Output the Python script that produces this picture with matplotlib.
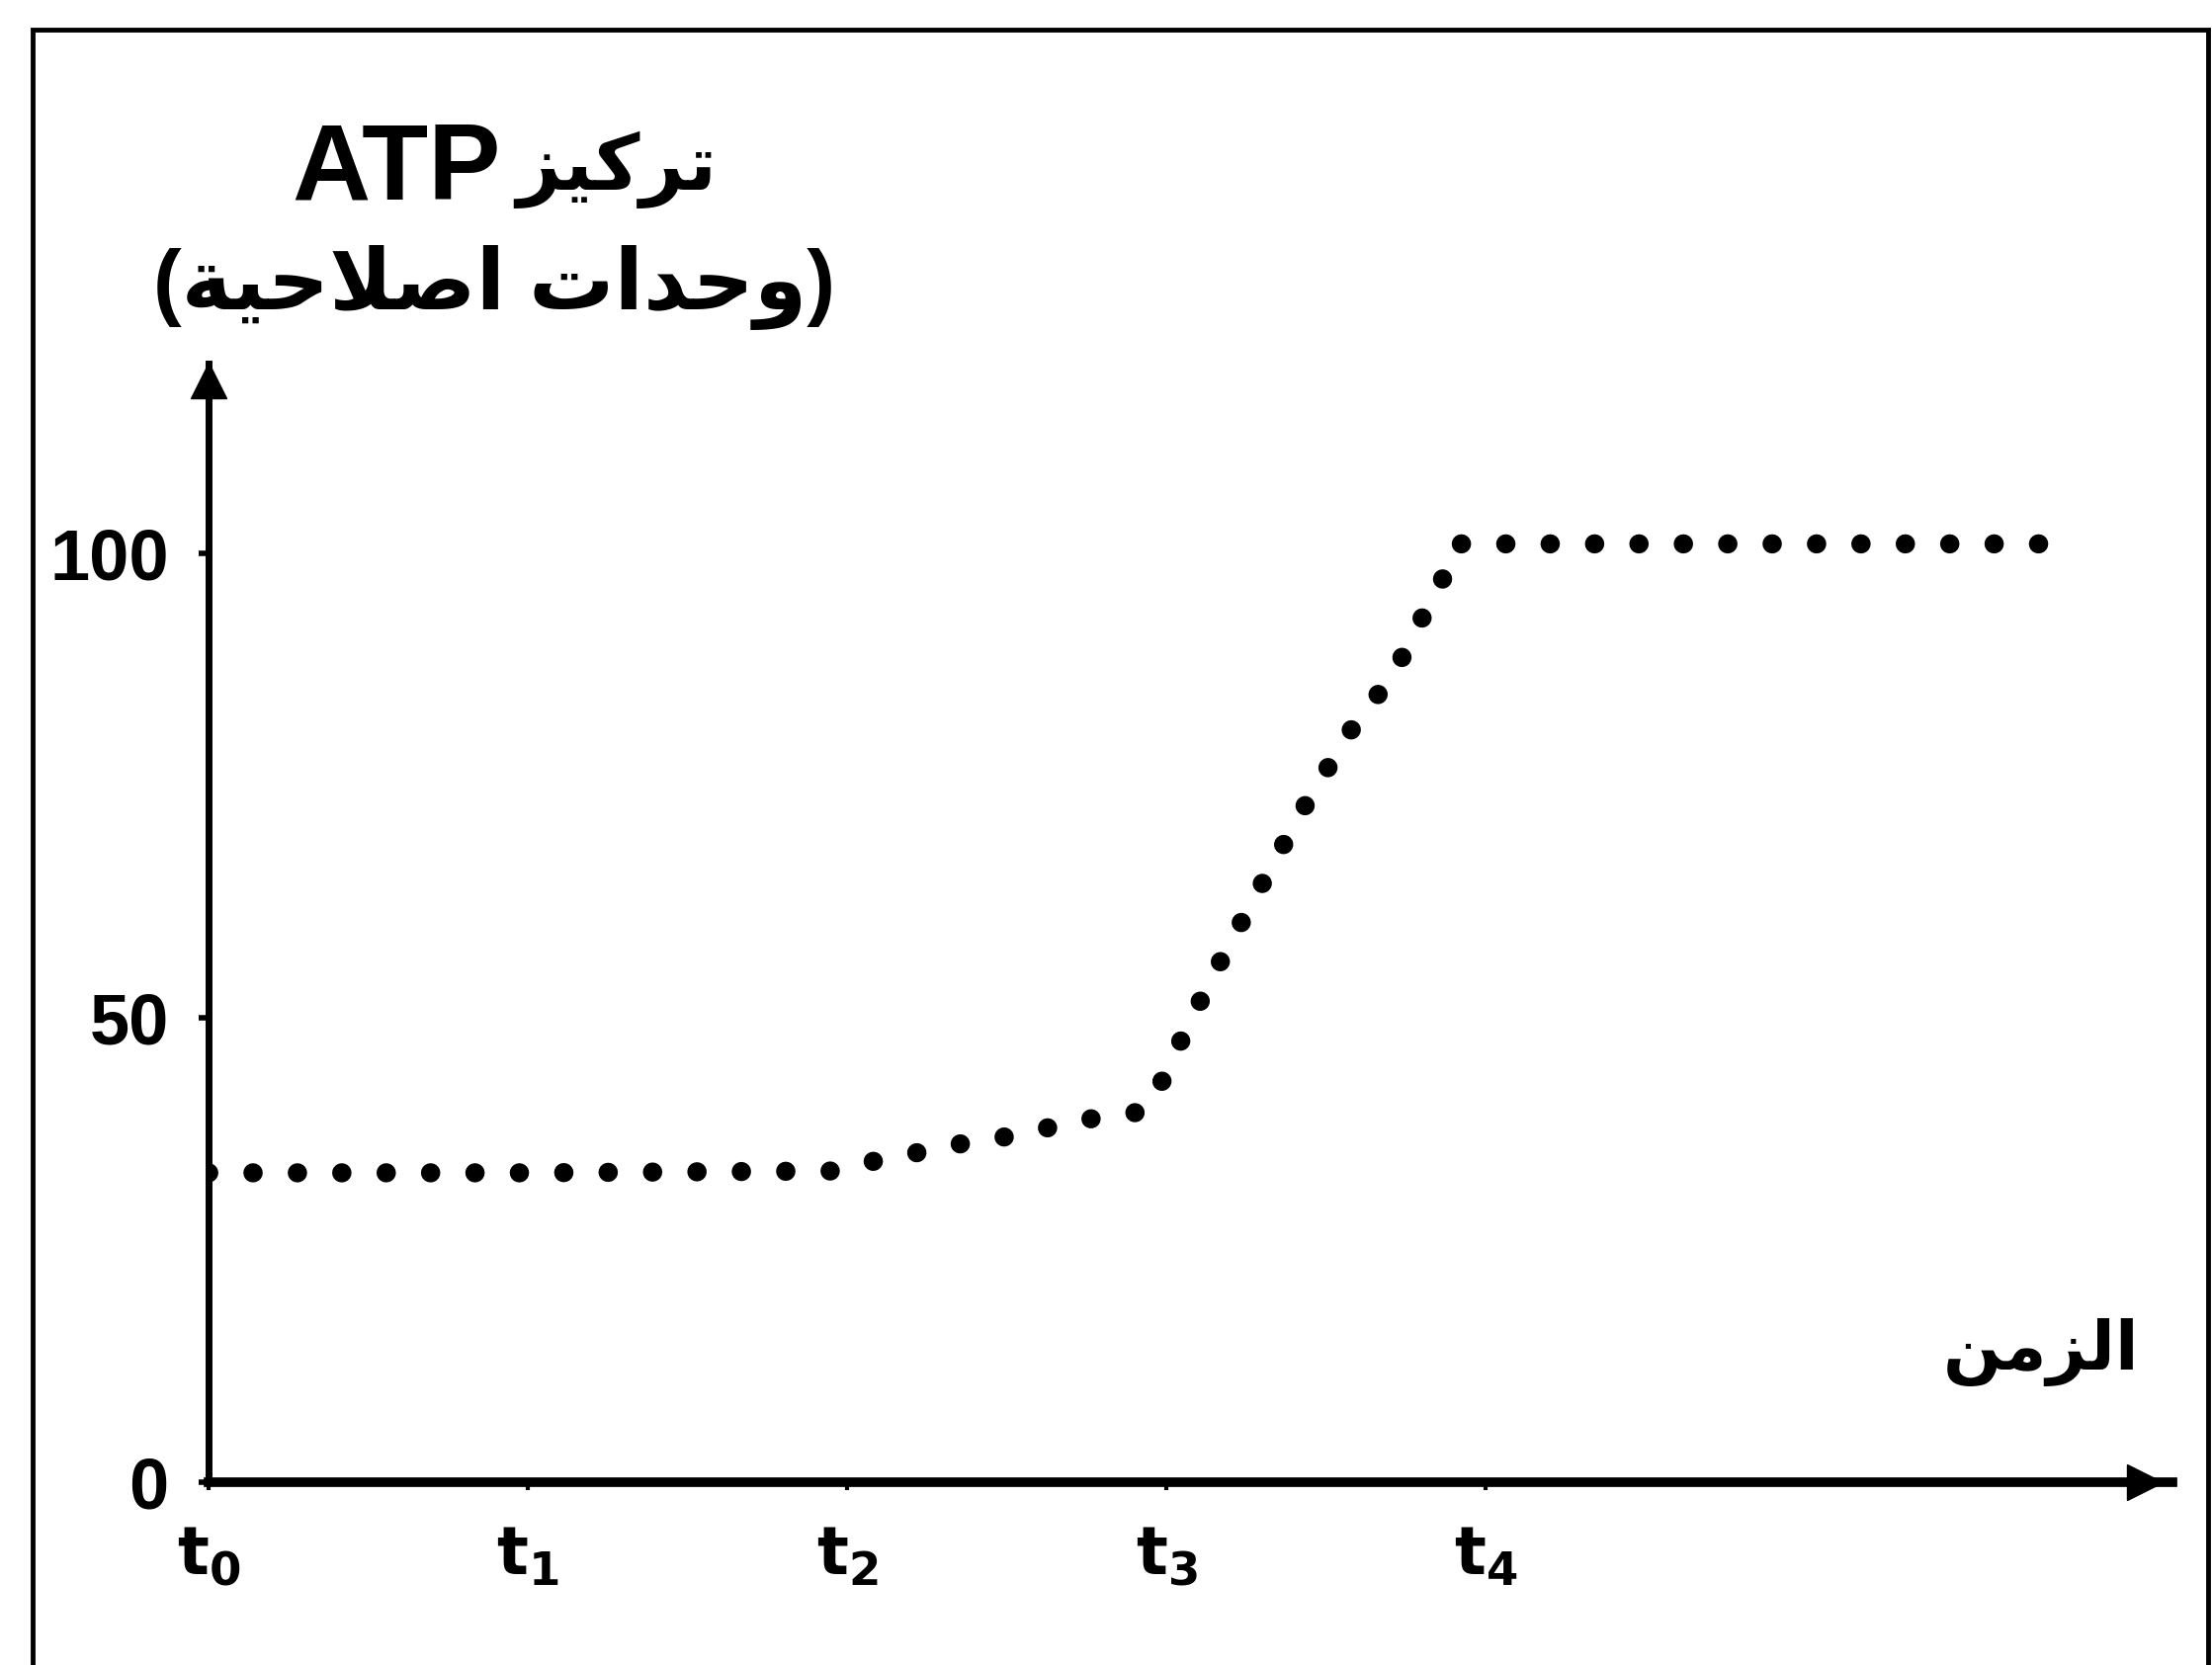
import matplotlib.pyplot as plt
from matplotlib.patches import Rectangle

# time axis in units of t, ATP concentration in arbitrary units
t_vals = [0, 1, 1.97, 2.11, 2.24, 2.38, 2.52, 2.66, 2.79, 2.93, 3.0, 3.06,
          3.18, 3.31, 3.43, 3.57, 3.72, 3.77, 3.85, 3.90, 5.86]
atp = [33.3, 33.3, 33.5, 34.8, 35.6, 36.6, 37.3, 38.4, 39.3, 39.9, 44.0, 48.7,
       56.8, 65.1, 72.6, 80.6, 87.4, 91.4, 95.7, 101, 101]

y_ticks = [0, 50, 100]
x_ticks = [0, 1, 2, 3, 4]
x_labels = [r'$\mathbf{t_0}$', r'$\mathbf{t_1}$', r'$\mathbf{t_2}$', r'$\mathbf{t_3}$', r'$\mathbf{t_4}$']

# Arabic text written in presentation forms, visual (left-to-right) order,
# since matplotlib does no Arabic shaping / bidi on its own
title_ar = '\uFEB0\uFEF4\uFEDB\uFEAE\uFE97'              # تركيز
title_lat = 'ATP'
title_2 = '(\uFE94\uFEF4\uFEA3\uFEFC\uFEBB\uFE8D \uFE95\uFE8D\uFEAA\uFEA3\uFEED)'  # (وحدات اصلاحية)
x_name = '\uFEE6\uFEE3\uFEB0\uFEDF\uFE8D'                # الزمن

W, H = 2238, 1685
fams = ['Liberation Sans', 'DejaVu Sans']

fig = plt.figure(figsize=(W / 100, H / 100), dpi=100)
ax = fig.add_axes([211 / W, 1 - 1500 / H, (2198 - 211) / W, (1500 - 368) / H])

ax.plot(t_vals, atp, color='black', lw=14, linestyle=(0, (0.01, 2.3)),
        dash_capstyle='round')

ax.set_xlim(0, 6.15)
ax.set_ylim(0, 120.4)

for s in ['top', 'right']:
    ax.spines[s].set_visible(False)
ax.spines['left'].set_linewidth(5)
ax.spines['bottom'].set_linewidth(7)

# arrow heads on the axes
ax.plot(0.986, 0, '>', color='black', ms=26, transform=ax.get_yaxis_transform(), clip_on=False)
ax.plot(0, 0.985, '^', color='black', ms=26, transform=ax.get_xaxis_transform(), clip_on=False)

ax.set_yticks(y_ticks)
ax.set_yticklabels([str(v) for v in y_ticks], fontsize=52, fontweight='bold',
                   family=fams)
ax.set_xticks(x_ticks)
ax.set_xticklabels(x_labels, fontsize=48)
ax.tick_params(axis='y', length=7, width=4, pad=22)
ax.tick_params(axis='x', length=6, width=3, pad=24)

# title: "ATP" and the Arabic word side by side
fig.text(507 / W, 1 - 202 / H, title_lat, ha='right', va='baseline', fontsize=79,
         fontweight='bold', family=fams)
fig.text(522 / W, 1 - 192 / H, title_ar, ha='left', va='baseline', fontsize=56,
         fontweight='bold', family=fams)
fig.text(500 / W, 1 - 291 / H, title_2, ha='center', va='center', fontsize=62,
         fontweight='bold', family=fams)
fig.text(2065 / W, 1 - 1368 / H, x_name, ha='center', va='center', fontsize=50,
         fontweight='bold', family=fams)

# outer frame
fig.add_artist(Rectangle((33 / W, -0.05), (2234 - 33) / W, 1.05 - 30 / H,
                         transform=fig.transFigure, fill=False, lw=3.5, ec='black'))

fig.savefig('out.png', dpi=100)
